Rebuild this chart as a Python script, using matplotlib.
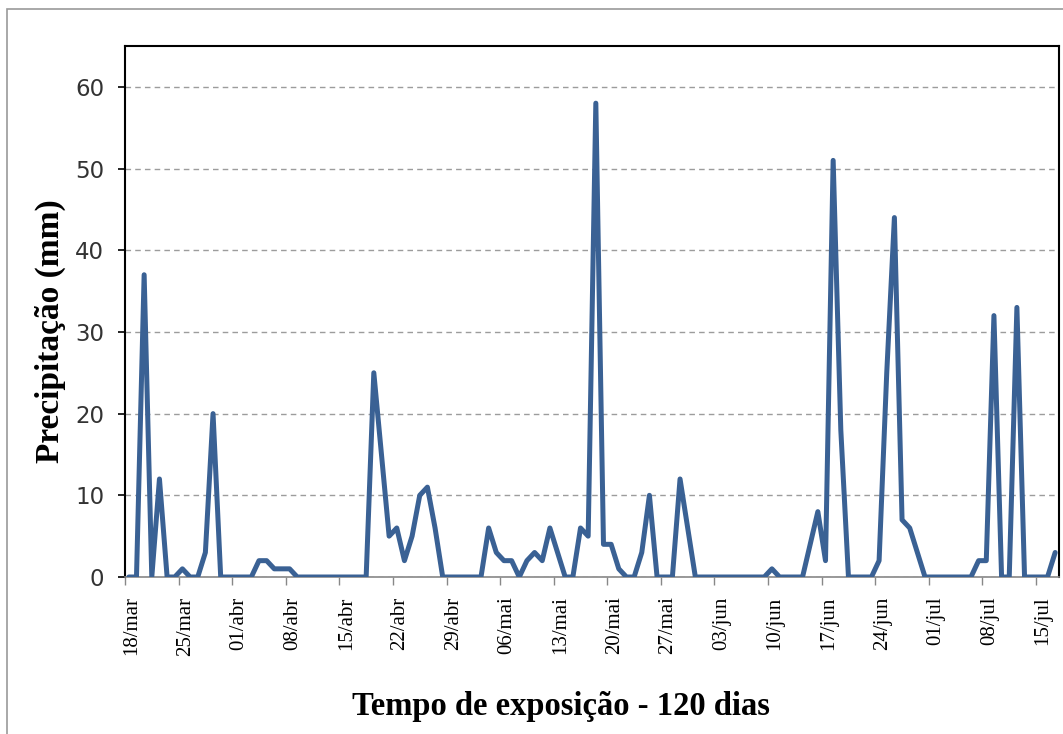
import matplotlib
matplotlib.use("Agg")
import matplotlib.pyplot as plt
from matplotlib.patches import Rectangle
import numpy as np

# Daily precipitation (mm), 18/mar ... 17/jul
precip = [
    0, 0, 37, 0, 12, 0, 0, 1, 0, 0,        # 0-9
    3, 20, 0, 0, 0, 0, 0, 2, 2, 1,         # 10-19
    1, 1, 0, 0, 0, 0, 0, 0, 0, 0,          # 20-29
    0, 0, 25, 15, 5, 6, 2, 5, 10, 11,      # 30-39
    6, 0, 0, 0, 0, 0, 0, 6, 3, 2,          # 40-49
    2, 0, 2, 3, 2, 6, 3, 0, 0, 6,          # 50-59
    5, 58, 4, 4, 1, 0, 0, 3, 10, 0,        # 60-69
    0, 0, 12, 6, 0, 0, 0, 0, 0, 0,         # 70-79
    0, 0, 0, 0, 1, 0, 0, 0, 0, 4,          # 80-89
    8, 2, 51, 18, 0, 0, 0, 0, 2, 25,       # 90-99
    44, 7, 6, 3, 0, 0, 0, 0, 0, 0,         # 100-109
    0, 2, 2, 32, 0, 0, 33, 0, 0, 0,        # 110-119
    0, 3,                                  # 120-121
]
tick_labels = ["18/mar", "25/mar", "01/abr", "08/abr", "15/abr", "22/abr",
               "29/abr", "06/mai", "13/mai", "20/mai", "27/mai", "03/jun",
               "10/jun", "17/jun", "24/jun", "01/jul", "08/jul", "15/jul"]
y_ticks = [0, 10, 20, 30, 40, 50, 60]
x_title = "Tempo de exposição - 120 dias"
y_title = "Precipitação (mm)"

days = np.arange(len(precip))
W, H = 1063, 734
fig = plt.figure(figsize=(W / 100, H / 100), dpi=100)
fig.patch.set_facecolor("white")
fig.patches.append(Rectangle((7 / W, -0.02), 1.02, 1 - 9 / H + 0.02,
                             transform=fig.transFigure, fill=False,
                             edgecolor="#9a9a9a", linewidth=1.2))

ax = fig.add_axes([125 / W, 1 - 577 / H, (1059 - 125) / W, (577 - 46) / H])
ax.plot(days, precip, color="#3a6194", linewidth=3.6, solid_joinstyle="round",
        solid_capstyle="round", zorder=3)

ax.set_xlim(-0.5, len(precip) - 0.5)
ax.set_ylim(0, 65)

# y axis
ax.set_yticks(y_ticks)
ax.set_yticklabels([str(v) for v in y_ticks], fontsize=16.5,
                   family="DejaVu Sans", color="#333333")
ax.yaxis.grid(True, linestyle=(0, (4, 3)), color="#9c9c9c", linewidth=1.0)
ax.set_axisbelow(True)
ax.tick_params(axis="y", direction="out", length=5, width=1.2, color="black",
               pad=10)

# x axis: tick marks at day boundaries, labels at day centres
n_ticks = len(tick_labels)
ax.set_xticks([7 * k - 0.5 for k in range(n_ticks)])
ax.set_xticklabels([])
ax.set_xticks([7 * k + 0.4 for k in range(n_ticks)], minor=True)
ax.set_xticklabels(tick_labels, minor=True, rotation=90,
                   family="Liberation Serif", fontsize=15, color="black")
ax.tick_params(axis="x", which="major", direction="out", length=6,
               width=1.0, color="#888888")
ax.tick_params(axis="x", which="minor", length=0, pad=14)

for side in ["left", "top", "right"]:
    ax.spines[side].set_color("black")
    ax.spines[side].set_linewidth(1.5)
ax.spines["bottom"].set_color("#888888")
ax.spines["bottom"].set_linewidth(1.2)

fig.text(50 / W, 1 - 331 / H, y_title, rotation=90, ha="center", va="center",
         family="Liberation Serif", fontweight="bold", fontsize=24)
fig.text(561 / W, 1 - 706 / H, x_title, ha="center", va="center",
         family="Liberation Serif", fontweight="bold", fontsize=23.5)

fig.savefig("out.png", dpi=100)
